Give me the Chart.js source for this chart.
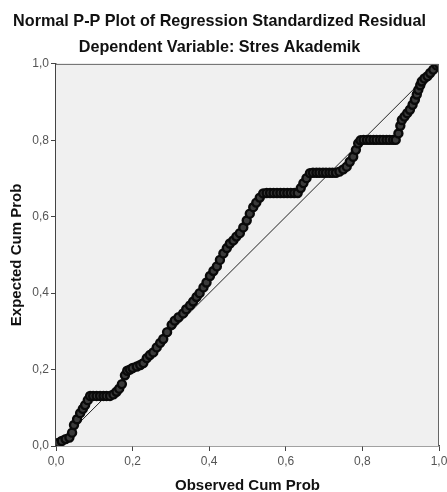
<!DOCTYPE html>
<html>
<head>
<meta charset="utf-8">
<script src="https://cdn.jsdelivr.net/npm/chart.js@4/dist/chart.umd.min.js"></script>
<style>
html,body{margin:0;padding:0;background:#fff;}
canvas{display:block;}
</style>
</head>
<body>
<canvas id="c" width="447" height="492"></canvas>
<script>
const titleText = "Normal P-P Plot of Regression Standardized Residual";
const subtitleText = "Dependent Variable: Stres Akademik";
const xAxisTitle = "Observed Cum Prob";
const yAxisTitle = "Expected Cum Prob";
const tickValues = [0, 0.2, 0.4, 0.6, 0.8, 1.0];

const observed = [
0.000,0.006,0.015,0.025,0.035,0.042,0.047,0.055,0.063,0.070,0.076,0.083,0.089,
0.097,0.106,0.115,0.124,0.132,0.141,
0.150,0.158,0.165,0.172,0.180,0.186,0.193,0.200,0.211,0.220,0.228,0.237,0.245,
0.254,0.263,0.272,0.280,0.290,0.302,0.310,0.320,0.332,0.340,0.350,0.358,0.367,
0.375,0.385,0.393,0.402,0.411,0.420,0.428,0.437,0.446,0.454,0.463,0.471,0.480,
0.489,0.498,0.506,0.515,0.523,0.532,0.541,
0.550,0.559,0.568,0.577,0.586,0.595,0.604,0.613,0.622,0.631,
0.639,0.646,0.654,0.663,
0.671,0.680,0.688,0.697,0.705,0.714,0.722,0.731,
0.740,0.750,0.759,0.767,0.776,0.783,0.789,0.795,
0.803,0.812,0.820,0.829,0.837,0.846,0.854,0.863,0.871,0.880,0.887,
0.894,0.899,0.903,0.910,0.917,0.924,0.931,0.937,0.942,0.946,0.951,0.955,0.962,
0.970,0.977,0.985,0.994,1.000
];
const expected = [
0.002,0.008,0.013,0.018,0.022,0.035,0.055,0.070,0.086,0.097,0.107,0.120,0.131,
0.131,0.131,0.131,0.131,0.131,0.131,
0.135,0.142,0.150,0.162,0.185,0.197,0.200,0.204,0.208,0.212,0.217,0.230,0.238,
0.245,0.258,0.270,0.280,0.298,0.317,0.328,0.337,0.347,0.358,0.368,0.378,0.390,
0.400,0.415,0.428,0.445,0.458,0.470,0.487,0.504,0.518,0.530,0.538,0.548,0.557,
0.572,0.590,0.608,0.625,0.637,0.650,0.661,
0.662,0.662,0.662,0.662,0.662,0.662,0.662,0.662,0.662,0.662,
0.675,0.688,0.701,0.714,
0.715,0.715,0.715,0.715,0.715,0.715,0.715,0.715,
0.718,0.724,0.731,0.744,0.757,0.775,0.792,0.800,
0.801,0.801,0.801,0.801,0.801,0.801,0.801,0.801,0.801,0.801,0.801,
0.818,0.838,0.853,0.862,0.871,0.880,0.893,0.906,0.920,0.932,0.944,0.954,0.962,
0.968,0.976,0.985,0.996,1.000
];
const refLineX = [0, 1];
const refLineY = [0, 1];

const FONT = "'Liberation Sans', Arial, sans-serif";
const fmt = v => Number(v).toFixed(1).replace('.', ',');

const plotBg = {
  id: 'plotBg',
  beforeDatasetsDraw(chart) {
    const {ctx, chartArea: a} = chart;
    ctx.save();
    ctx.fillStyle = '#f0f0f0';
    ctx.fillRect(a.left, a.top, a.right - a.left, a.bottom - a.top);
    ctx.restore();
  },
  afterDraw(chart) {
    const {ctx, chartArea: a} = chart;
    ctx.save();
    ctx.strokeStyle = '#666';
    ctx.lineWidth = 1;
    ctx.beginPath();
    ctx.moveTo(a.left, a.top + 0.5);
    ctx.lineTo(a.right - 0.5, a.top + 0.5);
    ctx.lineTo(a.right - 0.5, a.bottom);
    ctx.stroke();
    ctx.restore();
  }
};

new Chart(document.getElementById('c'), {
  type: 'scatter',
  data: {
    datasets: [
      {
        type: 'scatter',
        data: observed.map((x, i) => ({x, y: expected[i]})),
        pointRadius: 4,
        pointBorderWidth: 2.4,
        pointBorderColor: '#0a0a0a',
        pointBackgroundColor: '#3a3a3a',
        order: 1
      },
      {
        type: 'line',
        data: refLineX.map((x, i) => ({x, y: refLineY[i]})),
        borderColor: '#222',
        borderWidth: 1,
        pointRadius: 0,
        fill: false,
        order: 2
      }
    ]
  },
  plugins: [plotBg],
  options: {
    responsive: false,
    animation: false,
    events: [],
    layout: { padding: { left: 0, right: 8, top: 0, bottom: 0 } },
    plugins: {
      legend: { display: false },
      tooltip: { enabled: false },
      title: {
        display: true, text: titleText, color: '#111',
        font: { family: FONT, size: 16.2, weight: 'bold', lineHeight: 1.2 },
        padding: { top: 12, bottom: 3 }
      },
      subtitle: {
        display: true, text: subtitleText, color: '#111',
        font: { family: FONT, size: 16.2, weight: 'bold', lineHeight: 1.2 },
        padding: { top: 3, bottom: 7 }
      }
    },
    scales: {
      x: {
        type: 'linear', min: 0, max: 1,
        afterBuildTicks(s) { s.ticks = tickValues.map(v => ({value: v})); },
        afterFit(s) { s.height = 46; s.paddingRight = 0; s.paddingLeft = 0; },
        ticks: { callback: fmt, color: '#555', font: { family: FONT, size: 12 }, padding: 3, maxRotation: 0 },
        grid: { display: true, drawOnChartArea: false, drawTicks: true, tickLength: 5, color: '#444', lineWidth: 1 },
        border: { display: true, color: '#444', width: 1.5 },
        title: { display: true, text: xAxisTitle, color: '#111', font: { family: FONT, size: 15, weight: 'bold' }, padding: { top: 4, bottom: -3 } }
      },
      y: {
        type: 'linear', min: 0, max: 1,
        afterBuildTicks(s) { s.ticks = tickValues.map(v => ({value: v})); },
        afterFit(s) { s.width = 56; s.paddingTop = 0; s.paddingBottom = 0; },
        ticks: { callback: fmt, color: '#555', font: { family: FONT, size: 12 }, padding: 2 },
        grid: { display: true, drawOnChartArea: false, drawTicks: true, tickLength: 5, color: '#444', lineWidth: 1 },
        border: { display: true, color: '#444', width: 1.5 },
        title: { display: true, text: yAxisTitle, color: '#111', font: { family: FONT, size: 15, weight: 'bold' }, padding: { top: 8, bottom: 4 } }
      }
    }
  }
});
</script>
</body>
</html>
